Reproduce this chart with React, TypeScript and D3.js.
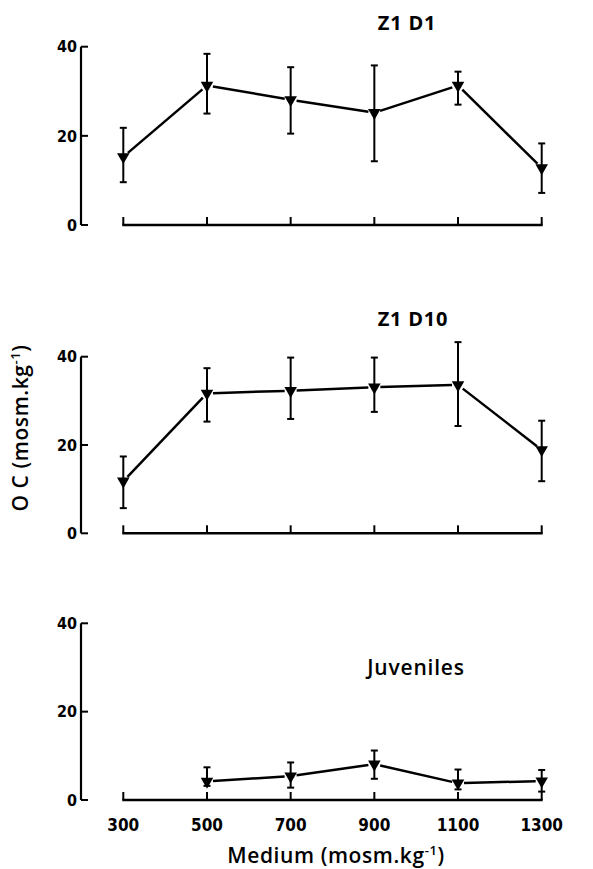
import * as d3 from "d3";

// osmolality of the medium (x)
const media = [300, 500, 700, 900, 1100, 1300];
const yTicks = [0, 20, 40];

// Z1 D1
const d1Mean = [15.3, 31.3, 28.1, 25.2, 31.3, 12.8];
const d1Hi = [21.8, 38.4, 35.4, 35.8, 34.4, 18.3];
const d1Lo = [9.6, 25.0, 20.5, 14.3, 27.0, 7.2];

// Z1 D10
const d10Mean = [11.8, 31.7, 32.3, 33.1, 33.6, 18.9];
const d10Hi = [17.4, 37.4, 39.8, 39.8, 43.3, 25.5];
const d10Lo = [5.7, 25.3, 25.9, 27.5, 24.3, 11.8];

// Juveniles (no value at 300)
const juvMedia = [500, 700, 900, 1100, 1300];
const juvMean = [4.2, 5.4, 8.1, 3.8, 4.3];
const juvHi = [7.4, 8.5, 11.2, 6.9, 6.8];
const juvLo = [3.2, 2.8, 4.8, 2.4, 1.9];

const W = 593;
const H = 869;
const numFont = "'Liberation Sans Narrow', 'DejaVu Sans Condensed', 'Arial Narrow', sans-serif";
const labelFont = "'Open Sans', 'DejaVu Sans', sans-serif";

const x = d3.scaleLinear().domain([300, 1300]).range([123.3, 541.7]);

interface Panel {
  title: string;
  titleX: number;
  titleY: number;
  titleWeight: number;
  titleSize: number;
  xs: number[];
  mean: number[];
  hi: number[];
  lo: number[];
  top: number;
  bottom: number;
  showTickLabels: boolean;
}

const panels: Panel[] = [
  { title: "Z1 D1", titleX: 407, titleY: 30, titleWeight: 700, titleSize: 20, xs: media, mean: d1Mean, hi: d1Hi, lo: d1Lo, top: 46.7, bottom: 225, showTickLabels: false },
  { title: "Z1 D10", titleX: 413, titleY: 326, titleWeight: 700, titleSize: 20, xs: media, mean: d10Mean, hi: d10Hi, lo: d10Lo, top: 356.7, bottom: 533.3, showTickLabels: false },
  { title: "Juveniles", titleX: 416, titleY: 675, titleWeight: 600, titleSize: 21, xs: juvMedia, mean: juvMean, hi: juvHi, lo: juvLo, top: 623.3, bottom: 800, showTickLabels: true },
];

function PanelChart({ p }: { p: Panel }) {
  const y = d3.scaleLinear().domain([0, 40]).range([p.bottom, p.top]);
  const axisX = 81;
  const pts = p.xs.map((m, i) => [x(m), y(p.mean[i])] as [number, number]);
  const gap = 6;

  // connecting segments, stopped short of the markers
  const segs = pts.slice(1).map((b, i) => {
    const a = pts[i];
    const dx = b[0] - a[0];
    const dy = b[1] - a[1];
    const len = Math.hypot(dx, dy);
    const ux = dx / len;
    const uy = dy / len;
    return [a[0] + ux * gap, a[1] + uy * gap, b[0] - ux * gap, b[1] - uy * gap];
  });

  const tri = d3.symbol().type(d3.symbolTriangle).size(68);

  return (
    <g>
      {/* y axis */}
      <line x1={axisX} x2={axisX} y1={y(40)} y2={y(0)} stroke="#000" strokeWidth={2.2} />
      {yTicks.map((t) => (
        <g key={t}>
          <line x1={axisX} x2={axisX + 7} y1={y(t)} y2={y(t)} stroke="#000" strokeWidth={2} />
          <text x={axisX - 4} y={y(t)} dy="0.36em" textAnchor="end" fontFamily={numFont} fontWeight={700} fontSize={16}>
            {t}
          </text>
        </g>
      ))}

      {/* x axis */}
      <line x1={x(300) - 1} x2={x(1300) + 1} y1={p.bottom} y2={p.bottom} stroke="#000" strokeWidth={2.4} />
      {media.map((m) => (
        <g key={m}>
          <line x1={x(m)} x2={x(m)} y1={p.bottom} y2={p.bottom - 8} stroke="#000" strokeWidth={2} />
          {p.showTickLabels && (
            <text x={x(m)} y={p.bottom + 31} textAnchor="middle" fontFamily={numFont} fontWeight={700} fontSize={17}>
              {m}
            </text>
          )}
        </g>
      ))}

      {/* line */}
      {segs.map((s, i) => (
        <line key={i} x1={s[0]} y1={s[1]} x2={s[2]} y2={s[3]} stroke="#000" strokeWidth={2.5} />
      ))}

      {/* error bars */}
      {p.xs.map((m, i) => (
        <g key={m} stroke="#000" strokeWidth={2}>
          <line x1={x(m)} x2={x(m)} y1={y(p.hi[i])} y2={y(p.lo[i])} />
          <line x1={x(m) - 3.5} x2={x(m) + 3.5} y1={y(p.hi[i])} y2={y(p.hi[i])} />
          <line x1={x(m) - 3.5} x2={x(m) + 3.5} y1={y(p.lo[i])} y2={y(p.lo[i])} />
        </g>
      ))}

      {/* markers */}
      {pts.map((pt, i) => (
        <path key={i} d={tri() as string} transform={`translate(${pt[0]},${pt[1]}) rotate(180)`} fill="#000" />
      ))}

      <text x={p.titleX} y={p.titleY} textAnchor="middle" fontFamily={labelFont} fontWeight={p.titleWeight} fontSize={p.titleSize} letterSpacing={0.8}>
        {p.title}
      </text>
    </g>
  );
}

export default function App() {
  return (
    <svg width={W} height={H} style={{ position: "absolute", left: 0, top: 0, background: "#fff" }}>
      <rect width={W} height={H} fill="#fff" />
      {panels.map((p) => (
        <PanelChart key={p.title} p={p} />
      ))}
      <text x={336} y={863} textAnchor="middle" fontFamily={labelFont} fontWeight={600} fontSize={21} letterSpacing={0.6}>
        Medium (mosm.kg<tspan dy={-8} fontSize={13}>-1</tspan><tspan dy={8}>)</tspan>
      </text>
      <text transform="translate(28,428) rotate(-90)" textAnchor="middle" fontFamily={labelFont} fontWeight={600} fontSize={21} letterSpacing={0.6}>
        O C (mosm.kg<tspan dy={-8} fontSize={13}>-1</tspan><tspan dy={8}>)</tspan>
      </text>
    </svg>
  );
}
